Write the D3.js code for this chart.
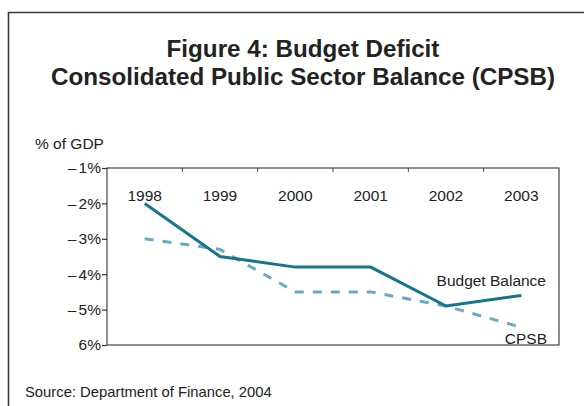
<!DOCTYPE html>
<html>
<head>
<meta charset="utf-8">
<script src="https://cdn.jsdelivr.net/npm/d3@7"></script>
<style>
  html, body { margin: 0; padding: 0; background: #fff; }
  svg { display: block; font-family: "Liberation Sans", Arial, sans-serif; }
</style>
</head>
<body>
<svg id="chart" width="584" height="406"></svg>
<script>
// Fiscal years shown along the top of the plot
const years = ["1998", "1999", "2000", "2001", "2002", "2003"];
// Budget balance, % of GDP
const budgetBalance = [-2.0, -3.5, -3.8, -3.8, -4.9, -4.6];
// Consolidated public sector balance, % of GDP
const cpsb = [-3.0, -3.3, -4.5, -4.5, -4.9, -5.5];
// Vertical axis ticks and their printed labels
const yTicks = [-1, -2, -3, -4, -5, -6];
const yTickLabels = ["\u2013 1%", "\u2013 2%", "\u2013 3%", "\u2013 4%", "\u2013 5%", "6%"];

const svg = d3.select("#chart");

// Outer frame
svg.append("path")
  .attr("d", "M8.5,406 V12.5 H584")
  .attr("fill", "none")
  .attr("stroke", "#3a3a3a")
  .attr("stroke-width", 1.6);

// Title
const title = svg.append("text")
  .attr("text-anchor", "middle")
  .attr("font-weight", "bold")
  .attr("font-size", 24.2)
  .attr("fill", "#222");
title.append("tspan").attr("x", 303).attr("y", 57).text("Figure 4: Budget Deficit");
title.append("tspan").attr("x", 303).attr("y", 85).text("Consolidated Public Sector Balance (CPSB)");

const plot = { left: 107, right: 559, top: 168, bottom: 345 };

const x = d3.scaleBand().domain(years).range([plot.left, plot.right]);
const y = d3.scaleLinear().domain([-1, -6]).range([plot.top, plot.bottom]);

// Plot box
svg.append("rect")
  .attr("x", plot.left).attr("y", plot.top)
  .attr("width", plot.right - plot.left).attr("height", plot.bottom - plot.top)
  .attr("fill", "none")
  .attr("stroke", "#444")
  .attr("stroke-width", 1.2);

// Y axis with tick marks pointing outward
const yAxis = d3.axisLeft(y)
  .tickValues(yTicks)
  .tickSize(5)
  .tickPadding(1)
  .tickFormat((d, i) => yTickLabels[i]);
const gy = svg.append("g").attr("transform", `translate(${plot.left},0)`).call(yAxis);
gy.select(".domain").remove();
gy.selectAll(".tick line").attr("stroke", "#333").attr("stroke-width", 1.2);
gy.selectAll(".tick text")
  .attr("font-size", 15.5)
  .attr("fill", "#222")
  .attr("font-family", "Liberation Sans, Arial, sans-serif")
  .style("word-spacing", "-2px");

// Category boundary ticks along the top edge
const boundaries = years.slice(1).map(d => x(d));
svg.append("g").selectAll("line").data(boundaries).join("line")
  .attr("x1", d => d).attr("x2", d => d)
  .attr("y1", plot.top).attr("y2", plot.top + 4)
  .attr("stroke", "#444").attr("stroke-width", 1);

// Year labels inside the top of the plot
svg.append("g").selectAll("text").data(years).join("text")
  .attr("x", d => x(d) + x.bandwidth() / 2)
  .attr("y", 201)
  .attr("text-anchor", "middle")
  .attr("font-size", 15.5)
  .attr("fill", "#222")
  .text(d => d);

// Axis title
svg.append("text")
  .attr("x", 35).attr("y", 149)
  .attr("font-size", 15.5).attr("fill", "#222")
  .text("% of GDP");

const line = d3.line()
  .x((d, i) => x(years[i]) + x.bandwidth() / 2)
  .y(d => y(d));

// CPSB (dashed)
svg.append("path")
  .datum(cpsb)
  .attr("d", line)
  .attr("fill", "none")
  .attr("stroke", "#6aa9c3")
  .attr("stroke-width", 3)
  .attr("stroke-dasharray", "9,9");

// Budget balance (solid)
svg.append("path")
  .datum(budgetBalance)
  .attr("d", line)
  .attr("fill", "none")
  .attr("stroke", "#14758c")
  .attr("stroke-width", 3);

// Series labels
svg.append("text")
  .attr("x", 546).attr("y", 286)
  .attr("text-anchor", "end")
  .attr("font-size", 15.5).attr("fill", "#222")
  .text("Budget Balance");
svg.append("text")
  .attr("x", 547).attr("y", 344)
  .attr("text-anchor", "end")
  .attr("font-size", 15.5).attr("fill", "#222")
  .text("CPSB");

// Source note
svg.append("text")
  .attr("x", 25).attr("y", 397)
  .attr("font-size", 14.8).attr("fill", "#222")
  .text("Source: Department of Finance, 2004");
</script>
</body>
</html>
